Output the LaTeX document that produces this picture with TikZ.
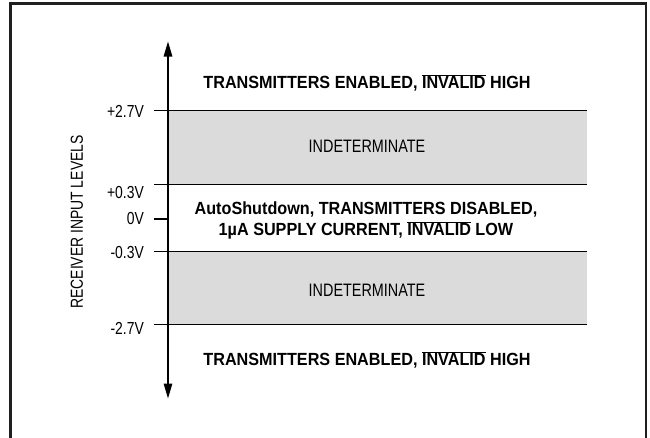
\documentclass[tikz,border=0pt]{standalone}
\usepackage{fontspec}
\setmainfont{Liberation Sans}[FakeStretch=0.8]
\newfontfamily\boldf{Liberation Sans}[FakeStretch=0.92]
\usetikzlibrary{arrows.meta}
\newcommand\ovl[1]{\ensuremath{\overline{\hbox{#1}}}}
\begin{document}
\begin{tikzpicture}[x=1pt,y=-1pt,
  frame/.style={draw=black!88,line width=2.3pt},
  level/.style={draw=black,line width=1.5pt},
  band/.style={fill=black!14,draw=none},
  lbl/.style={anchor=east,font=\fontsize{17.4}{19}\selectfont,inner sep=0pt},
  region/.style={font=\boldf\bfseries\fontsize{17.6}{21}\selectfont,align=center,inner sep=0pt},
  indet/.style={font=\fontsize{18}{20}\selectfont,inner sep=0pt}]
\useasboundingbox (0,0) rectangle (650,437);
\begin{scope}
\clip (0,0) rectangle (650,437);
\draw[frame] (10.5,460) -- (10.5,3.5) -- (646,3.5) -- (646,460);
\end{scope}
% bands
\fill[band] (168,110.7) rectangle (587,184.3);
\fill[band] (168,251.7) rectangle (587,324.3);
% axis
\coordinate (top) at (168,41.5);
\coordinate (bot) at (168,398.5);
\draw[line width=1.5pt,{Triangle[length=15pt,width=8.5pt]}-{Triangle[length=15pt,width=8.5pt]}] (top) -- (bot);
% level lines
\coordinate (a1) at (154,110.7); \coordinate (a2) at (587,110.7);
\coordinate (b1) at (154,184.3); \coordinate (b2) at (587,184.3);
\coordinate (c1) at (154,251.7); \coordinate (c2) at (587,251.7);
\coordinate (d1) at (154,324.3); \coordinate (d2) at (587,324.3);
\coordinate (z1) at (154,219); \coordinate (z2) at (168,219);
\draw[level] (a1) -- (a2);
\draw[level] (b1) -- (b2);
\draw[level] (c1) -- (c2);
\draw[level] (d1) -- (d2);
\draw[level] (z1) -- (z2);
% labels
\node[lbl] (l1) at (144,111.7) {+2.7V};
\node[lbl] (l2) at (144,192.7) {+0.3V};
\node[lbl] (l3) at (144,219) {0V};
\node[lbl] (l4) at (144,253) {-0.3V};
\node[lbl] (l5) at (144,328) {-2.7V};
\node[rotate=90,font=\fontsize{17.4}{19}\selectfont,inner sep=0pt] (ylab) at (77,222) {RECEIVER INPUT LEVELS};
% region texts
\node[region] (r1) at (367,82.7) {TRANSMITTERS ENABLED, \ovl{INVALID} HIGH};
\node[indet] (i1) at (367,146.7) {INDETERMINATE};
\node[region] (r2) at (366,220.5) {AutoShutdown, TRANSMITTERS DISABLED,\\1µA SUPPLY CURRENT, \ovl{INVALID} LOW};
\node[indet] (i2) at (367,290) {INDETERMINATE};
\node[region] (r3) at (367,360) {TRANSMITTERS ENABLED, \ovl{INVALID} HIGH};
\end{tikzpicture}
\end{document}
